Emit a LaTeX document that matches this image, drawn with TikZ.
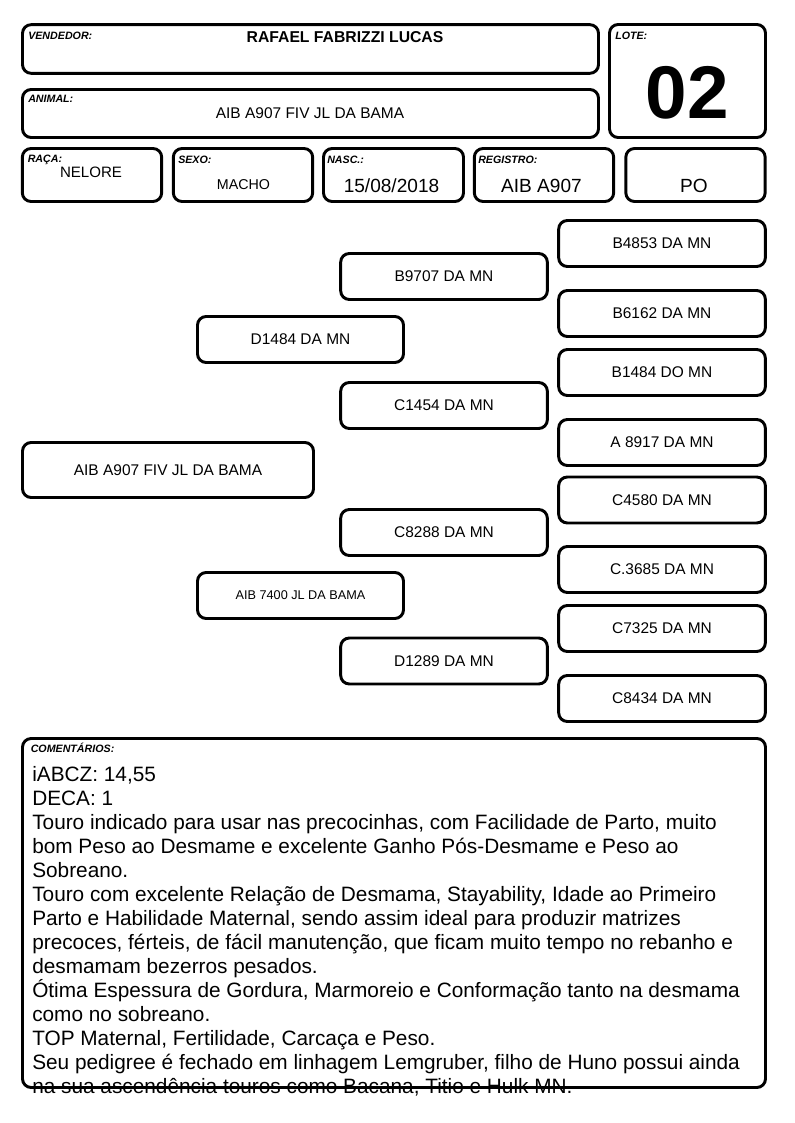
\documentclass[tikz,border=0pt]{standalone}
\usepackage{fontspec}
\setmainfont{Liberation Sans}
\setsansfont{Liberation Sans}
\usetikzlibrary{positioning}
\definecolor{ink}{RGB}{0,0,0}
\definecolor{paper}{RGB}{255,255,255}
\tikzset{
  font=\sffamily,
  box/.style={draw=ink, line width=2.2pt, rounded corners=6.5pt, fill=paper,
    inner sep=0pt},
  headBox/.style={box, minimum width=432pt, minimum height=36.5pt},
  infoBox/.style={box, minimum width=104.5pt, minimum height=39.75pt},
  pedBox/.style={box, minimum width=155pt, minimum height=34.5pt,
    font=\fontsize{11.6pt}{13pt}\selectfont, text=ink},
  tag/.style={font=\fontsize{8pt}{9pt}\selectfont\bfseries\itshape, text=ink,
    inner sep=0pt, anchor=base west},
  value/.style={font=\fontsize{11.6pt}{13pt}\selectfont, text=ink,
    inner sep=0pt, anchor=base},
  bigValue/.style={value, font=\fontsize{14.3pt}{16pt}\selectfont},
  noteText/.style={font=\fontsize{15.6pt}{18pt}\selectfont, text=ink,
    align=left, inner sep=0pt, anchor=north west}
}

\begin{document}
\begin{tikzpicture}[x=0.75pt,y=-0.75pt]

% Page
\useasboundingbox[fill=paper] (0,0) rectangle (794,1123);

% Header
\node[headBox] (vend) at (310.5,49) {};
\node[headBox, minimum height=36pt] (animal) at (310.5,113.5) {};
\node[box, minimum width=117pt, minimum height=84.75pt] (lote) at (687.5,81) {};
\node[infoBox] (raca) at (92,175) {};
\node[infoBox] (sexo) at (243,175) {};
\node[infoBox, minimum width=105pt] (nasc) at (393.5,175) {};
\node[infoBox] (registro) at (544,175) {};
\node[infoBox] (po) at (695.5,175) {};

\node[tag] (vendTag) at (28,39.5) {VENDEDOR:};
\node[value, font=\fontsize{11.8pt}{13pt}\selectfont\bfseries] (vendName) at (345,43) {RAFAEL FABRIZZI LUCAS};
\node[tag] (animalTag) at (28,102.5) {ANIMAL:};
\node[value] (animalName) at (310,119) {AIB A907 FIV JL DA BAMA};
\node[tag] (loteTag) at (615,39.5) {LOTE:};
\node[value, font=\fontsize{56pt}{60pt}\selectfont\bfseries] (loteNum) at (687.5,119) {02};

\node[tag] (racaTag) at (27.5,163) {RAÇA:};
\node[value, font=\fontsize{11.3pt}{13pt}\selectfont] (racaVal) at (91,178) {NELORE};
\node[tag] (sexoTag) at (178,163.5) {SEXO:};
\node[value, font=\fontsize{10.7pt}{12pt}\selectfont] (sexoVal) at (243.5,190) {MACHO};
\node[tag] (nascTag) at (327,163.5) {NASC.:};
\node[bigValue] (nascVal) at (391.5,193) {15/08/2018};
\node[tag] (registroTag) at (478,163.5) {REGISTRO:};
\node[bigValue] (registroVal) at (541.5,193) {AIB A907};
\node[bigValue] (poVal) at (694,193) {PO};

% Pedigree
\node[pedBox, minimum width=218.25pt, minimum height=41.25pt] (animalPed) at (168,470) {AIB A907 FIV JL DA BAMA};

\node[pedBox, minimum width=154.5pt] (sire) at (300.5,339.5) {D1484 DA MN};
\node[pedBox, minimum width=154.5pt, font=\fontsize{9.5pt}{11pt}\selectfont] (dam) at (300.5,595.5) {AIB 7400 JL DA BAMA};

\node[pedBox] (sireSire) at (444,276.5) {B9707 DA MN};
\node[pedBox] (sireDam) at (444,405.5) {C1454 DA MN};
\node[pedBox] (damSire) at (444,532.5) {C8288 DA MN};
\node[pedBox] (damDam) at (444,661) {D1289 DA MN};

\node[pedBox] (ss1) at (662,243.5) {B4853 DA MN};
\node[pedBox] (ss2) at (662,313.5) {B6162 DA MN};
\node[pedBox] (sd1) at (662,372.5) {B1484 DO MN};
\node[pedBox] (sd2) at (662,442.5) {A 8917 DA MN};
\node[pedBox] (ds1) at (662,500) {C4580 DA MN};
\node[pedBox] (ds2) at (662,569.5) {C.3685 DA MN};
\node[pedBox] (dd1) at (662,628.5) {C7325 DA MN};
\node[pedBox] (dd2) at (662,698.5) {C8434 DA MN};

% Comments
\node[box, minimum width=557.25pt, minimum height=261.75pt] (notes) at (394,913) {};
\node[tag] (notesTag) at (30.5,752) {COMENTÁRIOS:};
\node[noteText] (notesText) at (32,766)
  {iABCZ: 14,55\\
   DECA: 1\\
   Touro indicado para usar nas precocinhas, com Facilidade de Parto, muito\\
   bom Peso ao Desmame e excelente Ganho Pós-Desmame e Peso ao\\
   Sobreano.\\
   Touro com excelente Relação de Desmama, Stayability, Idade ao Primeiro\\
   Parto e Habilidade Maternal, sendo assim ideal para produzir matrizes\\
   precoces, férteis, de fácil manutenção, que ficam muito tempo no rebanho e\\
   desmamam bezerros pesados.\\
   Ótima Espessura de Gordura, Marmoreio e Conformação tanto na desmama\\
   como no sobreano.\\
   TOP Maternal, Fertilidade, Carcaça e Peso.\\
   Seu pedigree é fechado em linhagem Lemgruber, filho de Huno possui ainda\\
   na sua ascendência touros como Bacana, Titio e Hulk MN.};

\end{tikzpicture}
\end{document}
